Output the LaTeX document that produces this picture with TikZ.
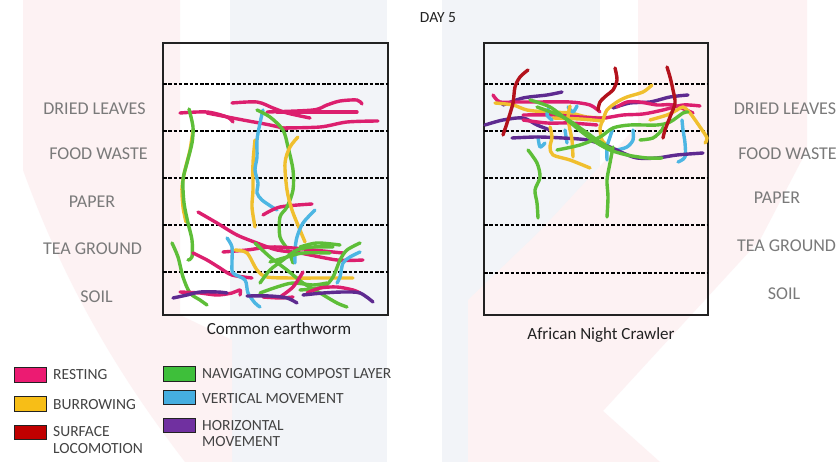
\documentclass[tikz,border=0pt]{standalone}
\usepackage{fontspec}
\newfontfamily\cf{Carlito}
\definecolor{bgpink}{HTML}{FDF2F3}
\definecolor{bgblue}{HTML}{F2F4F8}
\definecolor{cRest}{HTML}{DC1F6E}
\definecolor{cBurrow}{HTML}{F0BF2E}
\definecolor{cSurf}{HTML}{B3121C}
\definecolor{cNav}{HTML}{5EBE38}
\definecolor{cVert}{HTML}{4DB6E3}
\definecolor{cHoriz}{HTML}{5E2A90}
\definecolor{lgRest}{HTML}{EC1B72}
\definecolor{lgBurrow}{HTML}{F7BE17}
\definecolor{lgSurf}{HTML}{C00000}
\definecolor{lgNav}{HTML}{3EBF3A}
\definecolor{lgVert}{HTML}{45AEE0}
\definecolor{lgHoriz}{HTML}{7030A0}
\definecolor{labgray}{HTML}{7A7A7A}
\definecolor{ink}{HTML}{222222}
\begin{document}
\begin{tikzpicture}[x=1pt,y=-1pt,
  trail/.style={line width=3.4pt, line cap=round, line join=round},
  rest/.style={trail, draw=cRest},
  burrow/.style={trail, draw=cBurrow},
  surf/.style={trail, draw=cSurf},
  nav/.style={trail, draw=cNav},
  vert/.style={trail, draw=cVert},
  horiz/.style={trail, draw=cHoriz},
  frame/.style={draw=ink, line width=1.4pt},
  layerline/.style={draw=black, line width=1.25pt, dash pattern=on 3.5pt off 1.8pt},
  layerlbl/.style={font=\cf\fontsize{18}{20}\selectfont, text=labgray, inner sep=0pt},
  caption/.style={font=\cf\fontsize{17}{19}\selectfont, text=ink, inner sep=0pt, anchor=base},
  swatch/.style={draw=ink, line width=0.9pt, minimum width=32pt, minimum height=14.5pt, inner sep=0pt},
  legtext/.style={font=\cf\fontsize{15.5}{18}\selectfont, text=ink!85, inner sep=0pt, anchor=west, align=left}
]
\useasboundingbox (0,0) rectangle (840,462);
\fill[white] (0,0) rectangle (840,462);
% faint watermark
\fill[bgblue] (230,0) rectangle (387,462);
\fill[bgblue] (442,0) rectangle (600,462);
\fill[bgpink] (23,0) -- (180,0) -- (180,315) -- (232,340) -- (232,462) -- (185,462) .. controls (130,390) and (70,300) .. (23,170) -- cycle;
\fill[bgpink] (638,0) -- (807,0) -- (807,150) -- (760,240) -- (603,411) -- (660,462) -- (468,462) -- (468,300) -- (540,231) -- (638,125) -- cycle;

% title
\node[font=\cf\fontsize{15.5}{17}\selectfont, text=ink, inner sep=0pt] (title) at (438,18) {DAY 5};

% boxes
\draw[frame] (163,43) rectangle (388,315);
\draw[frame] (484,43) rectangle (708,315);
\foreach \yy in {84,131,178,225,272}{
  \draw[layerline] (163,\yy) -- (388,\yy);
}
\foreach \yy in {84,131,178,225,273}{
  \draw[layerline] (484,\yy) -- (708,\yy);
}

% layer labels
\node[layerlbl] (lDL) at (94.5,109) {DRIED LEAVES};
\node[layerlbl] (lFW) at (98.5,154) {FOOD WASTE};
\node[layerlbl] (lPA) at (92,201.5) {PAPER};
\node[layerlbl] (lTG) at (92.5,249) {TEA GROUND};
\node[layerlbl] (lSO) at (96.5,297) {SOIL};
\node[layerlbl] (rDL) at (785,109) {DRIED LEAVES};
\node[layerlbl] (rFW) at (787.5,154) {FOOD WASTE};
\node[layerlbl] (rPA) at (777,197.5) {PAPER};
\node[layerlbl] (rTG) at (786.5,246) {TEA GROUND};
\node[layerlbl] (rSO) at (784,294) {SOIL};

% captions
\node[caption] (capL) at (279,334) {Common earthworm};
\node[caption] (capR) at (601,339) {African Night Crawler};

% ---------- Common earthworm trails ----------
\draw[rest] plot[smooth] coordinates {(180,113) (207,112) (227,117) (233,122)};
\draw[rest] plot[smooth] coordinates {(207,113) (243,120) (270,125) (287,129)};
\draw[rest] plot[smooth] coordinates {(232,103) (257,102) (273,108) (287,113) (310,118)};
\draw[rest] plot[smooth] coordinates {(267,112) (313,110) (327,105) (340,101) (357,100) (362,104)};
\draw[rest] plot[smooth] coordinates {(277,112) (357,112)};
\draw[rest] plot[smooth] coordinates {(280,128) (320,127) (347,122) (378,121)};
\draw[burrow] plot[smooth] coordinates {(193,130) (190,150) (185,170) (182,187) (183,207) (186,222)};
\draw[nav] plot[smooth] coordinates {(189,109) (193,127) (192,143) (187,163) (183,180) (184,203) (188,223) (192,240) (192,257) (188,260)};
\draw[burrow] plot[smooth] coordinates {(255,140) (253,163) (253,190) (252,207) (255,227)};
\draw[vert] plot[smooth] coordinates {(263,110) (260,123) (257,140) (257,157) (255,170) (258,183) (257,193) (262,200) (272,207) (277,210)};
\draw[rest] plot[smooth] coordinates {(263,215) (280,207) (312,204)};
\draw[nav] plot[smooth] coordinates {(257,110) (270,117) (283,130) (288,147) (293,170) (293,190) (287,207) (280,217) (280,237) (288,250) (293,263)};
\draw[burrow] plot[smooth] coordinates {(298,137) (290,147) (285,163) (287,190) (292,210) (300,230) (305,242)};
\draw[vert] plot[smooth] coordinates {(315,210) (303,223) (297,237) (295,250) (295,263)};
\draw[rest] plot[smooth] coordinates {(198,212) (217,223) (237,235) (257,243) (277,250) (300,253) (337,260) (363,260)};
\draw[rest] plot[smooth] coordinates {(223,252) (247,250) (270,247) (293,248) (333,252) (343,253)};
\draw[rest] plot[smooth] coordinates {(193,253) (207,260) (220,268) (232,275) (252,278)};
\draw[nav] plot[smooth] coordinates {(172,243) (178,257) (183,277) (190,293) (200,300) (207,305)};
\draw[vert] plot[smooth] coordinates {(227,238) (232,247) (232,263) (233,273) (245,280) (248,293) (255,303) (260,307)};
\draw[burrow] plot[smooth] coordinates {(235,250) (247,253) (257,270) (267,277) (293,278) (327,278) (353,278)};
\draw[nav] plot[smooth] coordinates {(255,243) (270,257) (287,270) (303,283) (320,293) (337,303) (347,307)};
\draw[nav] plot[smooth] coordinates {(260,283) (270,270) (283,260) (297,250) (313,247) (333,247)};
\draw[nav] plot[smooth] coordinates {(300,247) (317,243) (340,245)};
\draw[nav] plot[smooth] coordinates {(270,262) (287,257) (303,253) (330,253)};
\draw[nav] plot[smooth] coordinates {(260,293) (277,287) (293,283) (313,285) (327,283)};
\draw[nav] plot[smooth] coordinates {(360,243) (347,250) (340,260) (333,277) (323,287) (300,290)};
\draw[vert] plot[smooth] coordinates {(360,252) (350,257) (343,263) (340,277) (337,283)};
\draw[rest] plot[smooth] coordinates {(280,297) (293,287) (303,272)};
\draw[rest] plot[smooth] coordinates {(180,292) (200,293) (217,295) (232,293) (240,290) (240,295)};
\draw[rest] plot[smooth] coordinates {(307,293) (320,288) (337,287) (353,290) (360,293)};
\draw[rest] plot[smooth] coordinates {(263,297) (280,298) (293,297)};
\draw[horiz] plot[smooth] coordinates {(173,298) (187,295) (200,292) (218,292) (227,293)};
\draw[horiz] plot[smooth] coordinates {(247,296) (270,296) (287,298) (297,303)};
\draw[horiz] plot[smooth] coordinates {(303,295) (323,293) (343,292) (360,293) (373,302)};

% ---------- African Night Crawler trails ----------
\draw[horiz] plot[smooth] coordinates {(503,105) (523,98) (547,95) (562,92)};
\draw[rest] plot[smooth] coordinates {(493,95) (500,102) (517,102) (537,102) (570,102) (590,105) (600,112)};
\draw[burrow] plot[smooth] coordinates {(495,103) (513,105) (527,110) (547,112) (570,113) (587,117) (607,118)};
\draw[horiz] plot[smooth] coordinates {(485,125) (503,120) (523,118) (537,125) (550,130)};
\draw[rest] plot[smooth] coordinates {(523,115) (553,115) (580,117) (603,118) (623,115) (643,114) (663,110) (683,105) (700,106)};
\draw[rest] plot[smooth] coordinates {(523,120) (547,123) (570,123) (597,125)};
\draw[burrow] plot[smooth] coordinates {(553,118) (580,119) (603,121)};
\draw[horiz] plot[smooth] coordinates {(613,108) (630,103) (650,102) (670,97) (688,95)};
\draw[rest] plot[smooth] coordinates {(617,107) (627,102) (640,102) (657,105) (673,105) (693,113)};
\draw[burrow] plot[smooth] coordinates {(652,85) (643,92) (627,97) (617,102) (607,110) (603,120) (600,128) (602,140) (607,145)};
\draw[burrow] plot[smooth] coordinates {(650,120) (667,115) (677,110) (683,107) (690,113) (700,127) (707,138) (705,143)};
\draw[vert] plot[smooth] coordinates {(538,137) (540,147) (545,143)};
\draw[vert] plot[smooth] coordinates {(568,107) (573,112) (577,106)};
\draw[vert] plot[smooth] coordinates {(549,107) (547,115) (552,120)};
\draw[vert] plot[smooth] coordinates {(565,130) (567,143)};
\draw[vert] plot[smooth] coordinates {(607,160) (607,147) (610,137) (613,128)};
\draw[vert] plot[smooth] coordinates {(633,130) (633,140) (627,147) (617,150)};
\draw[vert] plot[smooth] coordinates {(682,120) (683,130) (685,143) (685,157) (678,162)};
\draw[horiz] plot[smooth] coordinates {(512,138) (537,137) (563,138) (587,140) (610,147) (623,153) (637,158) (657,158) (677,155) (703,153)};
\draw[burrow] plot[smooth] coordinates {(570,106) (568,117) (570,130) (572,140) (573,157)};
\draw[burrow] plot[smooth] coordinates {(550,127) (552,137) (550,147) (553,155) (570,160) (590,168)};
\draw[nav] plot[smooth] coordinates {(530,100) (550,107) (567,120) (583,133) (597,143) (610,150) (627,155) (647,158) (662,158)};
\draw[nav] plot[smooth] coordinates {(537,107) (563,117) (583,130) (597,140) (610,148)};
\draw[nav] plot[smooth] coordinates {(557,150) (580,145) (600,137) (613,128) (630,125) (657,125) (670,122) (683,113) (688,112)};
\draw[nav] plot[smooth] coordinates {(640,140) (653,138) (662,130) (663,127)};
\draw[nav] plot[smooth] coordinates {(528,150) (537,163) (540,177) (535,190) (537,203) (538,218)};
\draw[nav] plot[smooth] coordinates {(613,147) (610,163) (607,180) (608,197) (607,217)};
\draw[surf] plot[smooth] coordinates {(528,70) (520,77) (515,87) (513,103) (508,120) (503,135)};
\draw[surf] plot[smooth] coordinates {(615,68) (617,80) (613,90) (607,95) (600,102) (598,110)};
\draw[surf] plot[smooth] coordinates {(667,67) (670,77) (673,90) (675,103) (670,117) (665,130) (663,138)};

% ---------- legend ----------
\node[swatch, fill=lgRest]   (sw1) at (30,375) {};
\node[legtext] (t1) at (53,375) {RESTING};
\node[swatch, fill=lgBurrow] (sw2) at (30,404) {};
\node[legtext] (t2) at (53,405) {BURROWING};
\node[swatch, fill=lgSurf]   (sw3) at (30,432.5) {};
\node[legtext, anchor=north west] (t3) at (53,426.5) {SURFACE\\[-1.5pt]LOCOMOTION};
\node[swatch, fill=lgNav]    (sw4) at (179,374) {};
\node[legtext] (t4) at (202,373.5) {NAVIGATING COMPOST LAYER};
\node[swatch, fill=lgVert]   (sw5) at (179,397.5) {};
\node[legtext] (t5) at (202,399) {VERTICAL MOVEMENT};
\node[swatch, fill=lgHoriz]  (sw6) at (179,425.5) {};
\node[legtext, anchor=north west] (t6) at (202,420) {HORIZONTAL\\[-1.5pt]MOVEMENT};
\end{tikzpicture}
\end{document}
